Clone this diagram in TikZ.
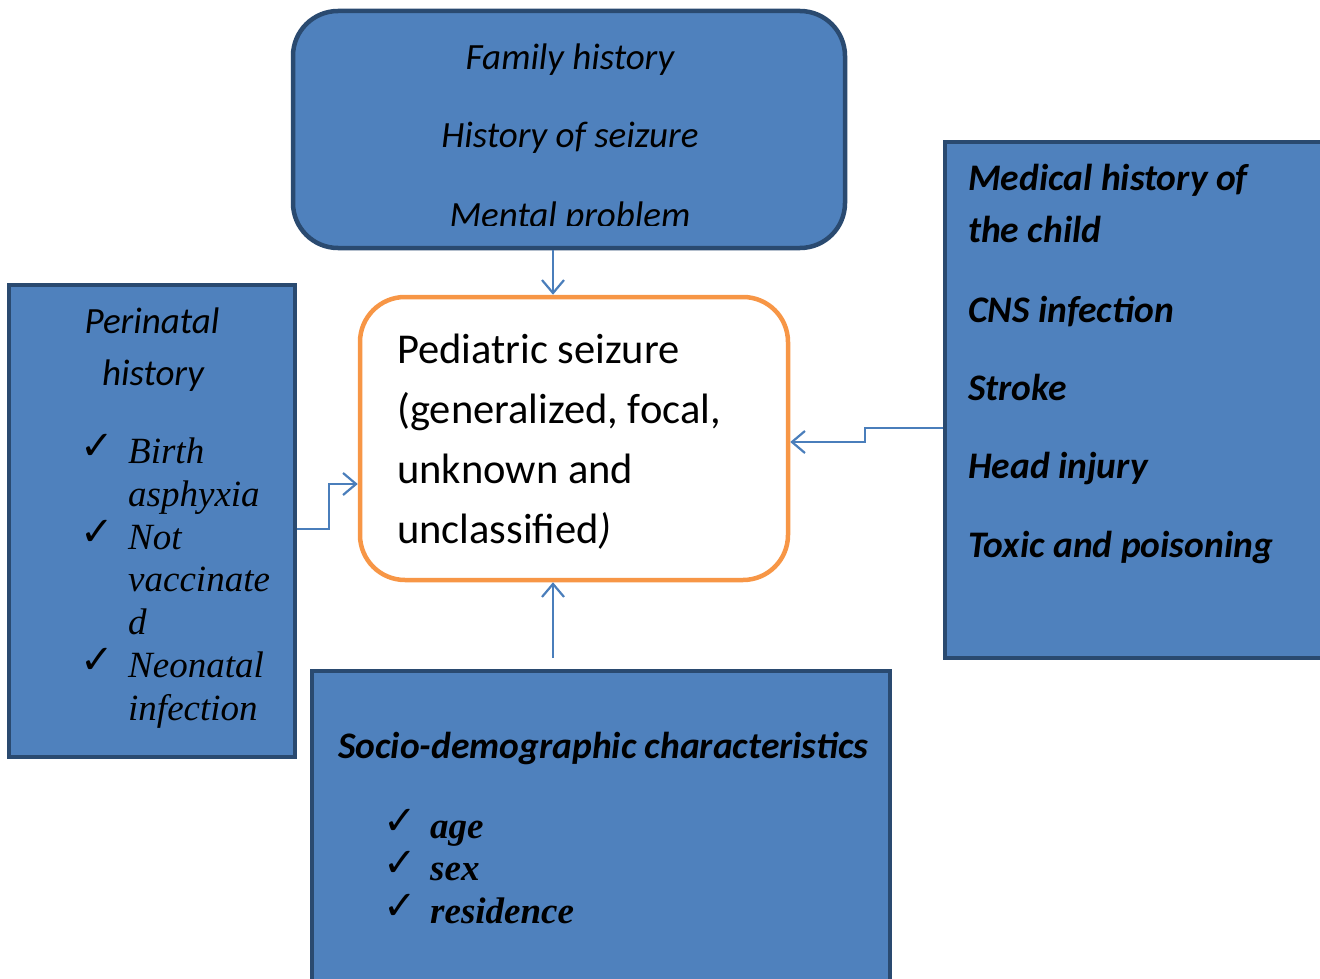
\documentclass[tikz,border=0pt]{standalone}
\usepackage{fontspec}
\setmainfont{Carlito}
\newfontfamily\tms{Liberation Serif}
\newfontfamily\dvs{DejaVu Sans}
\usetikzlibrary{arrows.meta}
\definecolor{boxblue}{HTML}{4F81BD}
\definecolor{boxedge}{HTML}{2A4A70}
\definecolor{orng}{HTML}{F79646}
\definecolor{linkblue}{HTML}{4A7EBB}
\tikzset{
  bluebox/.style={draw=boxedge, fill=boxblue, line width=4.5pt, inner sep=0pt},
  mainbox/.style={draw=orng, fill=white, line width=4.5pt, inner sep=0pt, rounded corners=45pt},
  conn/.style={draw=linkblue, line width=2.2pt, -{Straight Barb[length=13pt,width=22pt,line width=2.2pt]}},
  cal/.style={font=\fontsize{37}{43}\selectfont, inner sep=0pt},
  tm/.style={font=\tms\fontsize{37}{43}\selectfont\itshape, inner sep=0pt, anchor=base west},
  tmb/.style={font=\tms\fontsize{37}{43}\selectfont\bfseries\itshape, inner sep=0pt, anchor=base west},
  chk/.style={font=\dvs\fontsize{40}{40}\selectfont, inner sep=0pt, anchor=base west}
}
\begin{document}
\begin{tikzpicture}[x=1pt,y=-1pt]
\useasboundingbox (0,0) rectangle (1320,979);
% boxes
\node[bluebox, rounded corners=45pt, minimum width=552pt, minimum height=237pt] (top) at (569,129.5) {};
\node[mainbox, minimum width=428pt, minimum height=283pt] (center) at (574,438.5) {};
\node[bluebox, minimum width=286pt, minimum height=472pt] (left) at (152,521) {};
\node[bluebox, minimum width=390pt, minimum height=516pt] (right) at (1140,400) {};
\node[bluebox, minimum width=578pt, minimum height=330pt] (bottom) at (601,836) {};
% top text
\node[cal, font=\fontsize{37}{43}\selectfont\itshape, anchor=base] (t1) at (570,70) {Family history};
\node[cal, font=\fontsize{37}{43}\selectfont\itshape, anchor=base] (t2) at (570,148) {History of seizure};
\begin{scope}
\clip (293,11) rectangle (845,225);
\node[cal, font=\fontsize{37}{43}\selectfont\itshape, anchor=base] (t3) at (570,227) {Mental problem};
\end{scope}
% center text
\node[cal, font=\fontsize{42.5}{60}\selectfont, anchor=base west] (c1) at (397,363) {Pediatric seizure};
\node[cal, font=\fontsize{42.5}{60}\selectfont, anchor=base west] (c2) at (397,423) {(generalized, focal,};
\node[cal, font=\fontsize{42.5}{60}\selectfont, anchor=base west] (c3) at (397,483) {unknown and};
\node[cal, font=\fontsize{42.5}{60}\selectfont, anchor=base west] (c4) at (397,543) {unclassified\textit{)}};
% left text
\node[cal, font=\fontsize{37}{43}\selectfont\itshape, anchor=base] (l1) at (152,333) {Perinatal};
\node[cal, font=\fontsize{37}{43}\selectfont\itshape, anchor=base] (l2) at (153,385) {history};
\node[chk] (lk1) at (80,459) {✓};
\node[tm] (l3) at (128,463) {Birth};
\node[tm] (l4) at (128,506) {asphyxia};
\node[chk] (lk2) at (80,545) {✓};
\node[tm] (l5) at (128,549) {Not};
\node[tm] (l6) at (128,591) {vaccinate};
\node[tm] (l7) at (128,634) {d};
\node[chk] (lk3) at (80,673) {✓};
\node[tm] (l8) at (128,677) {Neonatal};
\node[tm] (l9) at (128,720) {infection};
% right text
\node[cal, font=\fontsize{37.5}{43}\selectfont\bfseries\itshape, anchor=base west] (r1) at (968,190) {Medical history of};
\node[cal, font=\fontsize{37.5}{43}\selectfont\bfseries\itshape, anchor=base west] (r2) at (968,242) {the child};
\node[cal, font=\fontsize{37.5}{43}\selectfont\bfseries\itshape, anchor=base west] (r3) at (968,322) {CNS infection};
\node[cal, font=\fontsize{37.5}{43}\selectfont\bfseries\itshape, anchor=base west] (r4) at (968,400) {Stroke};
\node[cal, font=\fontsize{37.5}{43}\selectfont\bfseries\itshape, anchor=base west] (r5) at (968,478) {Head injury};
\node[cal, font=\fontsize{37.5}{43}\selectfont\bfseries\itshape, anchor=base west] (r6) at (968,557) {Toxic and poisoning};
% bottom text
\node[cal, font=\fontsize{37.5}{43}\selectfont\bfseries\itshape, anchor=base west] (b1) at (338,758) {Socio-demographic characteristics};
\node[chk] (bk1) at (383,834) {✓};
\node[tmb] (b2) at (430,838) {age};
\node[chk] (bk2) at (383,876) {✓};
\node[tmb] (b3) at (430,880) {sex};
\node[chk] (bk3) at (383,919) {✓};
\node[tmb] (b4) at (430,923) {residence};
% connectors
\coordinate (bstart) at (553,658);
\draw[conn] ([xshift=-16pt]top.south) -- ([xshift=-16pt]top.south |- center.north);
\draw[conn] (bstart) -- (bstart |- center.south);
\draw[conn] ([yshift=-8pt]left.east) -- ++(32,0) |- ([yshift=-45.5pt]center.west);
\draw[conn] ([yshift=-28pt]right.west) -- ++(-78,0) |- ([yshift=-3.5pt]center.east);
\end{tikzpicture}
\end{document}
